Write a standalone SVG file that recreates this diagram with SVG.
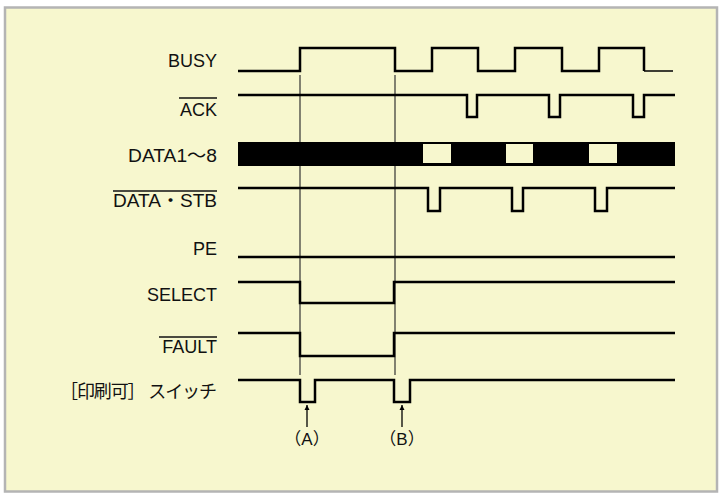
<svg xmlns="http://www.w3.org/2000/svg" width="721" height="493" viewBox="0 0 721 493">
<style>
.sig{fill:none;stroke:#000;stroke-width:2.5;stroke-linejoin:miter}
.guide{fill:none;stroke:#333;stroke-width:1.2}
.lbl{font-family:"Liberation Sans",Arial,"Noto Sans CJK JP",sans-serif;font-size:18px;fill:#111;text-anchor:end}
.ov{stroke:#111;stroke-width:1.3}
.mk{font-family:"Liberation Sans",Arial,"Noto Sans CJK JP",sans-serif;font-size:17px;fill:#111;text-anchor:middle}
</style>
<defs>
<marker id="ah" viewBox="0 0 10 10" refX="10" refY="5" markerWidth="5" markerHeight="6" orient="auto" markerUnits="userSpaceOnUse">
<path d="M0,0 L10,5 L0,10 z" fill="#000"/>
</marker>
</defs>
<rect x="5" y="7.5" width="712" height="484" fill="#F7F7CE" stroke="#B4B4B4" stroke-width="2.5"/>
<g id="labels">
<g id="busy-label"><text class="lbl" x="217" y="67">BUSY</text></g>
<g id="ack-label"><text class="lbl" x="217" y="116">ACK</text><line class="ov" x1="179" y1="98" x2="217" y2="98"/></g>
<g id="data-label"><text class="lbl" x="217" y="162" textLength="89" lengthAdjust="spacingAndGlyphs">DATA1〜8</text></g>
<g id="stb-label"><text class="lbl" x="217" y="207" textLength="104" lengthAdjust="spacingAndGlyphs">DATA・STB</text><line class="ov" x1="113" y1="191" x2="217" y2="191"/></g>
<g id="pe-label"><text class="lbl" x="217" y="255">PE</text></g>
<g id="select-label"><text class="lbl" x="217" y="301">SELECT</text></g>
<g id="fault-label"><text class="lbl" x="217" y="353">FAULT</text><line class="ov" x1="159" y1="337" x2="217" y2="337"/></g>
<g id="switch-label"><text class="lbl" x="217" y="398" textLength="157" lengthAdjust="spacing">［印刷可］ スイッチ</text></g>
</g>
<g id="connectors">
<line class="guide" x1="300" y1="75" x2="300" y2="375"/>
<line class="guide" x1="395" y1="75" x2="395" y2="375"/>
<line x1="307" y1="427" x2="307" y2="405" stroke="#000" stroke-width="1.3" marker-end="url(#ah)"/>
<line x1="402" y1="427" x2="402" y2="405" stroke="#000" stroke-width="1.3" marker-end="url(#ah)"/>
</g>
<g id="busy"><path class="sig" d="M238,71 H300 V48 H395 V71 H432 V48 H478 V71 H515 V48 H562 V71 H599 V48 H644 V71"/><line x1="644" y1="71" x2="673" y2="71" stroke="#000" stroke-width="1.5"/></g>
<g id="ack"><path class="sig" d="M238,95 H467 V117 H477 V95 H549 V117 H560 V95 H633 V117 H644 V95 H675"/></g>
<g id="data"><rect x="238" y="142" width="437" height="24" fill="#000"/>
<rect x="423" y="144" width="28" height="19" fill="#F7F7CE"/>
<rect x="506" y="144" width="27" height="19" fill="#F7F7CE"/>
<rect x="589" y="144" width="28" height="19" fill="#F7F7CE"/></g>
<g id="stb"><path class="sig" d="M238,188 H428 V211 H440 V188 H512 V211 H523 V188 H595 V211 H607 V188 H675"/></g>
<g id="pe"><path class="sig" d="M238,257 H675"/></g>
<g id="select"><path class="sig" d="M238,282 H300 V303 H394 V282 H675"/></g>
<g id="fault"><path class="sig" d="M238,333 H300 V356 H394 V333 H675"/></g>
<g id="switch"><path class="sig" d="M238,380 H300 V402 H315 V380 H394 V402 H410 V380 H675"/></g>
<g id="mark-a"><text class="mk" x="307" y="445">（A）</text></g>
<g id="mark-b"><text class="mk" x="402" y="445">（B）</text></g>
</svg>
